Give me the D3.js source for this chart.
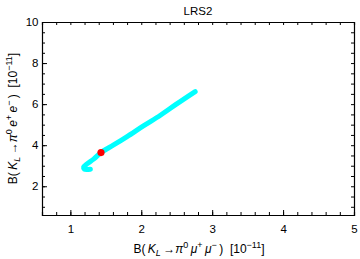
<!DOCTYPE html>
<html>
<head>
<meta charset="utf-8">
<script src="https://cdn.jsdelivr.net/npm/d3@7"></script>
<style>
  body { margin: 0; background: #fff; }
  svg { display: block; font-family: "Liberation Sans", Arial, sans-serif; }
</style>
</head>
<body>
<svg width="360" height="259"></svg>
<script>
// Band of LRS2 predictions
const curveX = [1.282, 1.197, 1.187, 1.235, 1.328, 1.432, 1.61, 1.80, 2.03, 2.27, 2.50, 2.76];
const curveY = [2.83, 2.83, 2.93, 3.09, 3.32, 3.64, 4.01, 4.42, 4.94, 5.46, 6.01, 6.61];
// Red reference point
const pointX = [1.432];
const pointY = [3.64];

const xTicks = [1, 2, 3, 4, 5];
const yTicks = [2, 4, 6, 8, 10];

const svg = d3.select("svg");
const m = { left: 42, right: 354, top: 22, bottom: 215 };

const x = d3.scaleLinear().domain([0.6, 5]).range([m.left, m.right]);
const y = d3.scaleLinear().domain([0.6, 10]).range([m.bottom, m.top]);

// Title
svg.append("text")
    .attr("x", (m.left + m.right) / 2)
    .attr("y", 15)
    .attr("text-anchor", "middle")
    .attr("font-size", 11.5)
    .text("LRS2");

// Curve
const line = d3.line()
    .x((d, i) => x(curveX[i]))
    .y((d, i) => y(curveY[i]))
    .curve(d3.curveCatmullRom);

svg.append("path")
    .datum(curveX)
    .attr("d", line)
    .attr("fill", "none")
    .attr("stroke", "#00ffff")
    .attr("stroke-width", 5)
    .attr("stroke-linecap", "round")
    .attr("stroke-linejoin", "round");

svg.selectAll(".pt")
    .data(pointX)
    .enter()
    .append("circle")
    .attr("cx", (d, i) => x(d))
    .attr("cy", (d, i) => y(pointY[i]))
    .attr("r", 3.6)
    .attr("fill", "#ff0000");

// Frame axes, ticks pointing inward
const xMinor = d3.range(0.6, 5.001, 0.2).map(v => +v.toFixed(2));
const yMinor = d3.range(1, 10.001, 0.5).map(v => +v.toFixed(2));

const axBottom = svg.append("g").attr("transform", `translate(0,${m.bottom})`)
    .call(d3.axisBottom(x).tickValues(xMinor).tickSize(-3).tickFormat(""));
const axTop = svg.append("g").attr("transform", `translate(0,${m.top})`)
    .call(d3.axisTop(x).tickValues(xMinor).tickSize(-3).tickFormat(""));
const axLeft = svg.append("g").attr("transform", `translate(${m.left},0)`)
    .call(d3.axisLeft(y).tickValues(yMinor).tickSize(-3).tickFormat(""));
const axRight = svg.append("g").attr("transform", `translate(${m.right},0)`)
    .call(d3.axisRight(y).tickValues(yMinor).tickSize(-3).tickFormat(""));

[axBottom, axTop, axLeft, axRight].forEach(g => {
    g.select(".domain").attr("stroke", "#000").attr("stroke-width", 1.2);
    g.selectAll(".tick line").attr("stroke", "#000");
});

// major ticks with labels
svg.append("g").attr("transform", `translate(0,${m.bottom})`)
    .call(d3.axisBottom(x).tickValues(xTicks).tickSize(-5).tickPadding(9.5).tickFormat(d3.format("d")))
    .call(g => g.select(".domain").remove())
    .call(g => g.selectAll("text").attr("font-size", 11.5).attr("fill", "#000").attr("font-family", "Liberation Sans, Arial, sans-serif"));
svg.append("g").attr("transform", `translate(${m.left},0)`)
    .call(d3.axisLeft(y).tickValues(yTicks).tickSize(-5).tickPadding(3.5).tickFormat(d3.format("d")))
    .call(g => g.select(".domain").remove())
    .call(g => g.selectAll("text").attr("font-size", 11.5).attr("fill", "#000").attr("font-family", "Liberation Sans, Arial, sans-serif"));

// Axis labels
function label(g, lep) {
    const sup = 9, up = 5;
    g.append("tspan").text("B(\u2009");
    g.append("tspan").attr("font-style", "italic").text("K");
    g.append("tspan").attr("font-style", "italic").attr("font-size", sup).attr("dy", 3).text("L");
    g.append("tspan").attr("dy", -3).text("\u2009\u2192");
    g.append("tspan").attr("font-style", "italic").text("\u03c0");
    g.append("tspan").attr("font-size", sup).attr("dy", -up).text("0");
    g.append("tspan").attr("font-style", "italic").attr("dy", up).text("\u2009" + lep);
    g.append("tspan").attr("font-size", sup).attr("dy", -up).text("+");
    g.append("tspan").attr("font-style", "italic").attr("dy", up).text("\u2009" + lep);
    g.append("tspan").attr("font-size", sup).attr("dy", -up).text("\u2212");
    g.append("tspan").attr("dy", up).text("\u2009)  [10");
    g.append("tspan").attr("font-size", sup).attr("dy", -up).text("\u221211");
    g.append("tspan").attr("dy", up).text("]");
}

const xl = svg.append("text")
    .attr("x", 199)
    .attr("y", 253)
    .attr("text-anchor", "middle")
    .attr("font-size", 12)
    .attr("xml:space", "preserve");
label(xl, "\u03bc");

const yl = svg.append("text")
    .attr("transform", "translate(17,118.5) rotate(-90)")
    .attr("text-anchor", "middle")
    .attr("font-size", 12)
    .attr("xml:space", "preserve");
label(yl, "e");
</script>
</body>
</html>
